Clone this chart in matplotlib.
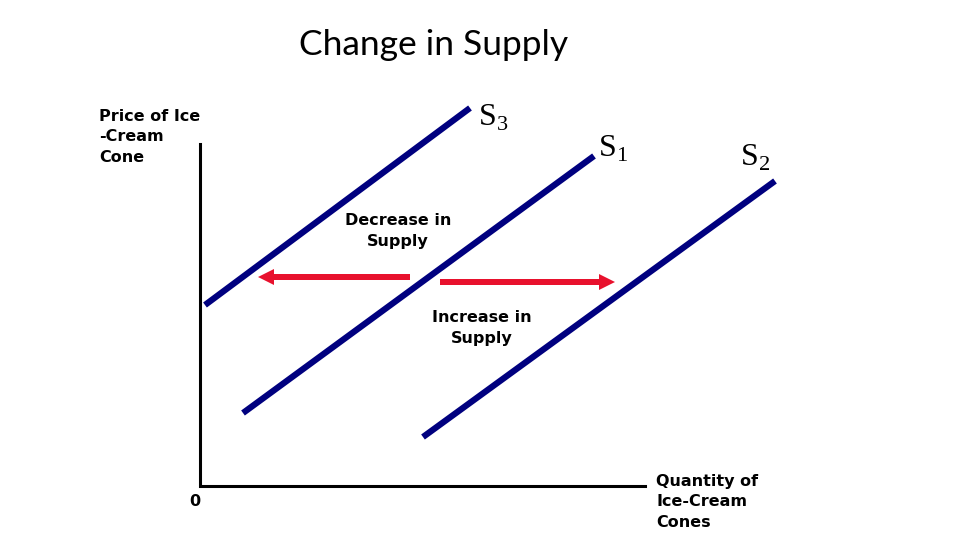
import matplotlib
matplotlib.use("Agg")
import matplotlib.pyplot as plt

plt.rcParams["mathtext.fontset"] = "custom"
plt.rcParams["mathtext.rm"] = "Liberation Serif"

# supply curves: (quantity, price) at both ends, measured from the origin
s3_q = [5, 270]
s3_p = [181, 378]
s1_q = [43, 394]
s1_p = [73, 330]
s2_q = [223, 575]
s2_p = [49, 305]

# axis extents
q_max = 445
p_max = 342

# shift arrows: start quantity, end quantity, price level
decrease = (210, 58, 209)
increase = (240, 415, 204)

navy = "#00007F"
red = "#E8112D"
label_font = dict(family="DejaVu Sans", fontweight="bold", fontsize=11.5, linespacing=1.45)

fig = plt.figure(figsize=(9.6, 5.4), dpi=100)
ax = fig.add_axes([0, 0, 1, 1])
ax.set_xlim(-200, 760)
ax.set_ylim(-54, 486)
ax.axis("off")

# axes of the diagram
ax.plot([0, 0, q_max], [p_max, 0, 0], color="black", lw=2.2, solid_joinstyle="miter")

for q, p, name, sub, dx, dy in [(s3_q, s3_p, "S", "3", 8, -25),
                                (s1_q, s1_p, "S", "1", 4, -8),
                                (s2_q, s2_p, "S", "2", -35, 8)]:
    ax.plot(q, p, color=navy, lw=4.5, solid_capstyle="butt")
    ax.text(q[1] + dx, p[1] + dy, rf"$\mathrm{{{name}}}_{{{sub}}}$", fontsize=23,
            color="black", ha="left", va="bottom")

for x0, x1, y in [decrease, increase]:
    ax.arrow(x0, y, x1 - x0, 0, width=6, head_width=16, head_length=16,
             length_includes_head=True, color=red, lw=0)

ax.text(234, 441, "Change in Supply", family="Lato", fontsize=25.5, ha="center", va="center")
ax.text(-101, 377, "Price of Ice\n-Cream\nCone", ha="left", va="top", **label_font)
ax.text(198, 255, "Decrease in\nSupply", ha="center", va="center", **label_font)
ax.text(282, 158, "Increase in\nSupply", ha="center", va="center", **label_font)
ax.text(456, 12, "Quantity of\nIce-Cream\nCones", ha="left", va="top", **label_font)
ax.text(-5, -16, "0", ha="center", va="center", **label_font)

fig.savefig("out.png", dpi=100)
